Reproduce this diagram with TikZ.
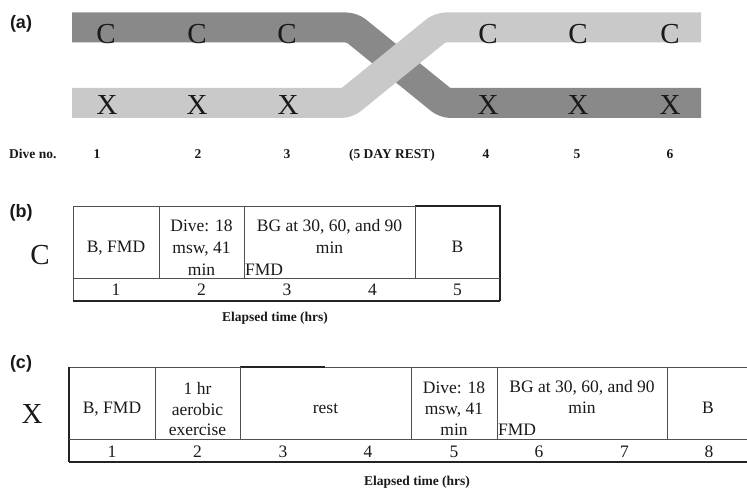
\documentclass[tikz,border=0pt]{standalone}
\usepackage{fontspec}
\setmainfont{Liberation Serif}
\newfontfamily\lsans{Liberation Sans}
\definecolor{darkband}{RGB}{137,137,137}
\definecolor{lightband}{RGB}{201,201,201}
\definecolor{ink}{RGB}{25,25,25}
\definecolor{thinline}{RGB}{80,80,80}
\definecolor{thickline}{RGB}{35,35,35}
\tikzset{
  band/.style={line width=30pt, rounded corners=6pt},
  bigletter/.style={font=\fontsize{29}{29}\selectfont, anchor=base, text=ink, inner sep=0pt},
  paneltag/.style={font=\lsans\bfseries\fontsize{18}{18}\selectfont, anchor=base, text=ink, inner sep=0pt},
  divetxt/.style={font=\bfseries\fontsize{13.5}{13.5}\selectfont, anchor=base, text=ink, inner sep=0pt},
  celltxt/.style={font=\fontsize{17.5}{21}\selectfont, anchor=base, text=ink, inner sep=0pt},
  leftcell/.style={celltxt, anchor=base west},
  thin/.style={draw=thinline, line width=0.8pt},
  thick/.style={draw=thickline, line width=1.5pt},
}
\begin{document}
\begin{tikzpicture}[x=1pt, y=-1pt]
\useasboundingbox (0,0) rectangle (747,489);
% ---------- (a) ----------
\node[paneltag] (tagA) at (21,28.5) {(a)};
\draw[band, darkband] (72,27.5) -- (352,27.5) -- (445,103) -- (701,103);
\draw[band, lightband] (72,103) -- (347,103) -- (440,27.5) -- (701,27.5);
\foreach \x [count=\i] in {106,197,287,488,578,670}{
  \node[bigletter] (c\i) at (\x,43.5) {C};
}
\foreach \x [count=\i] in {107,197,288,488,578,670}{
  \node[bigletter] (x\i) at (\x,115) {X};
}
\node[divetxt, anchor=base west] (diveno) at (9,158.5) {Dive no.};
\node[divetxt] (d1) at (97,158.5) {1};
\node[divetxt] (d2) at (198,158.5) {2};
\node[divetxt] (d3) at (287,158.5) {3};
\node[divetxt] (rest5) at (392,158.5) {(5 DAY REST)};
\node[divetxt] (d4) at (486,158.5) {4};
\node[divetxt] (d5) at (577,158.5) {5};
\node[divetxt] (d6) at (670,158.5) {6};
% ---------- (b) ----------
\node[paneltag] (tagB) at (21,218) {(b)};
\node[bigletter] (bigC) at (40,264) {C};
\draw[thin] (73,206) -- (415,206);
\draw[thick] (415,206) -- (500,206) -- (500,301);
\draw[thin] (73,206) -- (73,301);
\draw[thin] (73,278) -- (500,278);
\draw[thick] (72.6,301) -- (500,301);
\draw[thin] (159,206) -- (159,278);
\draw[thin] (244,206) -- (244,278);
\draw[thin] (415,206) -- (415,278);
\node[celltxt] (b1) at (116,253) {B, FMD};
\node[celltxt] (b2a) at (201.5,232) {Dive: 18};
\node[celltxt] (b2b) at (201.5,254) {msw, 41};
\node[celltxt] (b2c) at (201.5,275.5) {min};
\node[celltxt] (b3a) at (329.5,232) {BG at 30, 60, and 90};
\node[celltxt] (b3b) at (329.5,253.5) {min};
\node[leftcell] (b3c) at (245,275.5) {FMD};
\node[celltxt] (b4) at (457.5,253) {B};
\foreach \x [count=\i] in {116,201.5,287,372.5,457.5}{
  \node[celltxt] (bh\i) at (\x,295) {\i};
}
\node[divetxt] (elapB) at (275,321) {Elapsed time (hrs)};
% ---------- (c) ----------
\node[paneltag] (tagC) at (21,368) {(c)};
\node[bigletter] (bigX) at (32,423) {X};
\draw[thin] (69,367) -- (240,367);
\draw[thick] (240,367) -- (325,367);
\draw[thin] (325,367) -- (747,367);
\draw[thick] (69,366.5) -- (69,462);
\draw[thin] (69,439) -- (747,439);
\draw[thick] (69,462) -- (747,462);
\foreach \x in {155,240,411,497,667}{
  \draw[thin] (\x,367) -- (\x,439);
}
\node[celltxt] (c1t) at (112,413) {B, FMD};
\node[celltxt] (c2a) at (197.5,394.5) {1 hr};
\node[celltxt] (c2b) at (197.5,415) {aerobic};
\node[celltxt] (c2c) at (197.5,435) {exercise};
\node[celltxt] (c3t) at (325.5,413) {rest};
\node[celltxt] (c5a) at (454,393.5) {Dive: 18};
\node[celltxt] (c5b) at (454,414.5) {msw, 41};
\node[celltxt] (c5c) at (454,435.5) {min};
\node[celltxt] (c6a) at (582,392.5) {BG at 30, 60, and 90};
\node[celltxt] (c6b) at (582,413.5) {min};
\node[leftcell] (c6c) at (498,435.5) {FMD};
\node[celltxt] (c8t) at (708,413) {B};
\foreach \x [count=\i] in {112,197.5,283,368,454,539,624.5,709}{
  \node[celltxt] (ch\i) at (\x,457) {\i};
}
\node[divetxt] (elapC) at (417,485) {Elapsed time (hrs)};
\end{tikzpicture}
\end{document}
